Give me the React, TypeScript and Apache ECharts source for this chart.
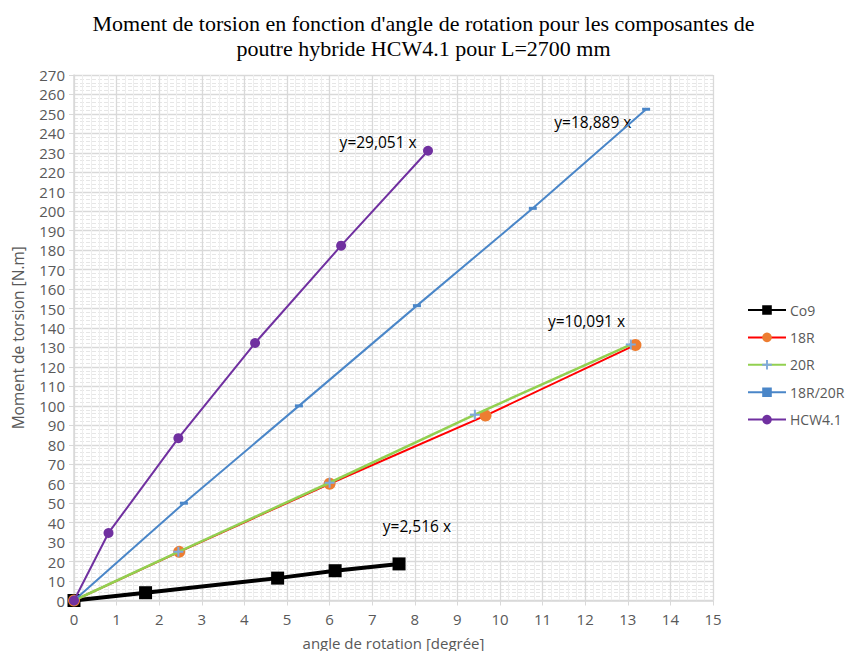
import React, { useEffect, useRef } from "react";
import * as echarts from "echarts";

const titleLines = [
  "Moment de torsion en fonction d'angle de rotation pour les composantes de",
  "poutre hybride HCW4.1 pour L=2700 mm",
];
const xAxisName = "angle de rotation [degrée]";
const yAxisName = "Moment de torsion [N.m]";

const seriesNames = ["Co9", "18R", "20R", "18R/20R", "HCW4.1"];

const co9X = [0, 1.68, 4.78, 6.13, 7.63];
const co9Y = [0, 4, 11.5, 15.3, 18.8];

const r18X = [0, 2.47, 6.0, 9.66, 13.18];
const r18Y = [0, 25, 60, 95, 131.3];

const r20X = [0, 2.45, 6.0, 9.41, 13.07];
const r20Y = [0, 25, 60.5, 95.5, 131.5];

const r1820X = [0, 2.58, 5.28, 8.05, 10.77, 13.43];
const r1820Y = [0, 50, 100, 151.5, 201.5, 252.4];

const hcwX = [0, 0.81, 2.45, 4.25, 6.27, 8.31];
const hcwY = [0, 34.7, 83.4, 132.3, 182.3, 231.1];

const trendTexts = ["y=2,516 x", "y=10,091 x", "y=18,889 x", "y=29,051 x"];
const trendSeriesIdx = [0, 1, 3, 4];
const trendAnchorX = [8.05, 12.03, 12.18, 7.14];
const trendAnchorY = [38.3, 143.7, 246, 235.7];

const font = "'Open Sans', 'Liberation Sans', sans-serif";
const gray = "#595959";

const zip = (xs: number[], ys: number[]) => xs.map((x, i) => [x, ys[i]]);

const plusPath =
  "path://M4,0 L6,0 L6,4 L10,4 L10,6 L6,6 L6,10 L4,10 L4,6 L0,6 L0,4 L4,4 Z";

export default function App() {
  const ref = useRef<HTMLDivElement>(null);
  useEffect(() => {
    if (!ref.current) return;
    const chart = echarts.init(ref.current, undefined, { renderer: "svg" });

    const base = [
      {
        data: zip(co9X, co9Y),
        lineColor: "#000000",
        lineWidth: 4,
        symbol: "rect",
        symbolSize: 13,
        markerColor: "#000000",
      },
      {
        data: zip(r18X, r18Y),
        lineColor: "#ff0000",
        lineWidth: 2,
        symbol: "circle",
        symbolSize: 12,
        markerColor: "#ed7d31",
      },
      {
        data: zip(r20X, r20Y),
        lineColor: "#92d050",
        lineWidth: 2.5,
        symbol: plusPath,
        symbolSize: 10,
        markerColor: "#7fa9dc",
      },
      {
        data: zip(r1820X, r1820Y),
        lineColor: "#4a86c8",
        lineWidth: 2,
        symbol: "rect",
        symbolSize: [8, 3],
        markerColor: "#4a86c8",
      },
      {
        data: zip(hcwX, hcwY),
        lineColor: "#7030a0",
        lineWidth: 2,
        symbol: "circle",
        symbolSize: 10,
        markerColor: "#7030a0",
      },
    ];

    const series: any[] = base.map((b, i) => {
      const tIdx = trendSeriesIdx.indexOf(i);
      const s: any = {
        name: seriesNames[i],
        type: "line",
        data: b.data,
        symbol: b.symbol,
        symbolSize: b.symbolSize,
        showAllSymbol: true,
        lineStyle: { color: b.lineColor, width: b.lineWidth },
        itemStyle: { color: b.markerColor, borderWidth: 0 },
        color: b.lineColor,
        z: 2 + i,
      };
      if (tIdx >= 0) {
        s.markPoint = {
          symbol: "circle",
          symbolSize: 1,
          itemStyle: { color: "transparent" },
          data: [
            {
              coord: [trendAnchorX[tIdx], trendAnchorY[tIdx]],
              label: {
                show: true,
                position: "inside",
                formatter: trendTexts[tIdx],
                color: "#000000",
                fontSize: 15.5,
                fontFamily: font,
              },
            },
          ],
        };
      }
      return s;
    });

    chart.setOption({
      animation: false,
      backgroundColor: "#ffffff",
      title: {
        text: titleLines.join("\n"),
        left: "center",
        top: 6,
        textStyle: {
          fontFamily: "'Liberation Serif', 'DejaVu Serif', serif",
          fontSize: 22,
          fontWeight: "normal",
          color: "#000000",
          lineHeight: 25,
        },
      },
      legend: {
        orient: "vertical",
        left: 747,
        top: 303,
        padding: 0,
        itemWidth: 38,
        itemHeight: 12,
        itemGap: 13.4,
        data: seriesNames.map((n, i) => ({
          name: n,
          itemStyle: { color: base[i].markerColor },
        })),
        textStyle: { fontFamily: font, fontSize: 14, color: gray, padding: [0, 0, 0, -1] },
      },
      grid: {
        left: 74,
        right: 134,
        top: 75,
        bottom: 50.5,
        containLabel: false,
        outerBoundsMode: "none",
      },
      xAxis: {
        type: "value",
        min: 0,
        max: 15,
        interval: 1,
        name: xAxisName,
        nameLocation: "middle",
        nameGap: 34.5,
        nameTextStyle: { fontFamily: font, fontSize: 15, lineHeight: 15, color: gray },
        axisLine: { show: true, lineStyle: { color: "#d9d9d9", width: 1.5 } },
        axisTick: { show: true, length: 5, lineStyle: { color: "#d9d9d9" } },
        axisLabel: { fontFamily: font, fontSize: 15, color: gray, margin: 11 },
        splitLine: { show: true, lineStyle: { color: "#d9d9d9", width: 1.3 } },
        minorTick: { show: false, splitNumber: 5 },
        minorSplitLine: { show: true, lineStyle: { color: "#eeeeee", width: 1 } },
      },
      yAxis: {
        type: "value",
        min: 0,
        max: 270,
        interval: 10,
        name: yAxisName,
        nameLocation: "middle",
        nameGap: 48,
        nameTextStyle: { fontFamily: font, fontSize: 15.5, color: gray },
        axisLine: { show: true, lineStyle: { color: "#d9d9d9", width: 1.5 } },
        axisTick: { show: true, length: 5, lineStyle: { color: "#d9d9d9" } },
        axisLabel: { fontFamily: font, fontSize: 15, color: gray, margin: 9 },
        splitLine: { show: true, lineStyle: { color: "#d9d9d9", width: 1.3 } },
        minorTick: { show: false, splitNumber: 5 },
        minorSplitLine: {
          show: true,
          lineStyle: { color: "#e6e6e6", width: 1, type: [4, 2] },
        },
      },
      series,
    });
    return () => chart.dispose();
  }, []);
  return (
    <div
      ref={ref}
      style={{ position: "absolute", left: 0, top: 0, width: 847, height: 651 }}
    />
  );
}
